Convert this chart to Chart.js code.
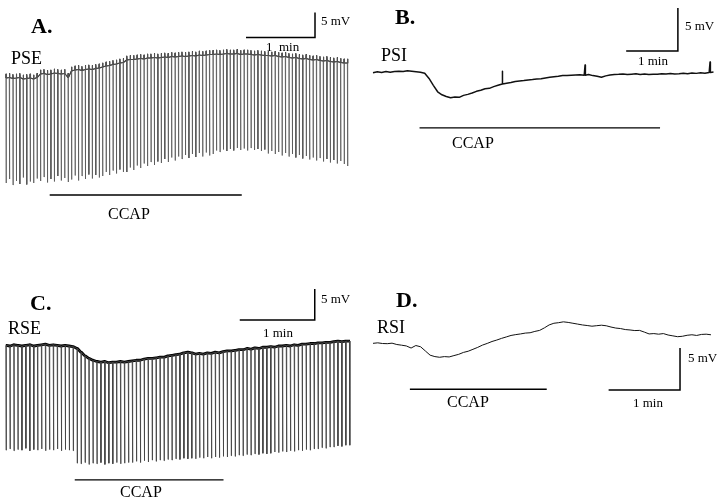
<!DOCTYPE html>
<html>
<head>
<meta charset="utf-8">
<script src="https://cdn.jsdelivr.net/npm/chart.js@4/dist/chart.umd.min.js"></script>
<style>
  html, body { margin: 0; padding: 0; background: #fff; }
  #wrap { position: relative; width: 720px; height: 502px; }
  canvas { position: absolute; }
</style>
</head>
<body>
<div id="wrap">
  <canvas id="pa" width="360" height="251" style="left:0;top:0"></canvas>
  <canvas id="pb" width="360" height="251" style="left:360px;top:0"></canvas>
  <canvas id="pc" width="360" height="251" style="left:0;top:251px"></canvas>
  <canvas id="pd" width="360" height="251" style="left:360px;top:251px"></canvas>
</div>
<script>
// ---- data (mV relative to the start of each recording, time in s) ----

// A. PSE: membrane level and spike trough for every spike, one spike every 3 s
const pseBase = [
  0, 0.1, -0.1, 0, 0.1, -0.2, -0.1, 0, -0.2, 0.1,
  0.8, 0.9, 0.7, 0.8, 1.0, 0.9, 0.8, 0.9, 0.1,
  1.4, 1.6, 1.7, 1.5, 1.7, 1.8, 1.7, 1.9, 2.0,
  2.2, 2.4, 2.5, 2.7, 2.8, 3.0, 3.1,
  3.6, 3.7, 3.7, 3.8, 3.9, 3.8, 4.0, 4.0, 4.1, 4.0,
  4.1, 4.2, 4.1, 4.3, 4.2, 4.3, 4.4, 4.3, 4.4, 4.5, 4.4, 4.6, 4.5, 4.6, 4.7,
  4.7, 4.8, 4.7, 4.8, 4.9, 4.8, 4.8, 4.9, 4.7, 4.8, 4.8, 4.7, 4.6, 4.7, 4.6, 4.5,
  4.5, 4.4, 4.5, 4.3, 4.2, 4.3, 4.1, 4.0, 4.1, 3.9,
  3.8, 3.9, 3.7, 3.6, 3.7, 3.5, 3.4, 3.5, 3.3, 3.2, 3.3, 3.1, 3.0, 3.0
];
const pseTrough = [
  -21.0, -20.2, -21.4, -20.6, -21.2, -19.9, -21.3, -20.7, -21.0, -20.1,
  -20.6, -19.8, -20.9, -20.2, -20.7, -19.6, -20.5, -20.0, -20.8,
  -20.3, -19.5, -20.5, -19.6, -20.2, -19.3, -20.1, -19.4, -19.9,
  -19.6, -18.8, -19.4, -18.5, -19.1, -18.3, -18.8,
  -18.8, -17.9, -18.4, -17.5, -18.0, -17.1, -17.6, -16.8, -17.4, -16.7,
  -17.0, -16.2, -16.8, -15.9, -16.5, -15.7, -16.2, -15.4, -16.0, -15.2, -15.8, -15.0, -15.7, -14.9, -15.5,
  -15.2, -14.5, -14.8, -14.3, -14.6, -14.2, -14.5, -14.0, -14.4, -14.1, -14.5, -14.0, -14.4, -14.2, -14.6, -14.3,
  -15.1, -14.6, -15.2, -14.8, -15.5, -15.0, -15.7, -15.2, -15.9, -15.4,
  -16.1, -15.6, -16.3, -15.9, -16.5, -16.0, -16.7, -16.2, -16.9, -16.4, -17.1, -16.6, -17.2, -17.6
];
const pseCcap = [38, 205];

// B. PSI: one sample every 5 s, plus a few small depolarising events
const psiVolt = [
  -0.08, 0.02, -0.05, 0.05, -0.02, 0.06, 0.1, 0.05, 0.14, 0.08,
  0.03, -0.02, -0.15, -0.75, -1.55, -2.3, -2.65, -2.85, -3.0, -2.92,
  -2.95, -2.72, -2.6, -2.45, -2.25, -2.12, -1.95, -1.9, -1.7, -1.55,
  -1.4, -1.3, -1.22, -1.1, -1.05, -1.0, -0.92, -0.88, -0.82, -0.78,
  -0.7, -0.62, -0.55, -0.5, -0.42, -0.4, -0.38, -0.36, -0.33, -0.38,
  -0.3, -0.42, -0.5, -0.62, -0.45, -0.35, -0.3, -0.27, -0.22, -0.3,
  -0.25, -0.2, -0.28, -0.22, -0.3, -0.25, -0.27, -0.2, -0.24, -0.18,
  -0.22, -0.2, -0.15, -0.2, -0.12, -0.16, -0.1, -0.14, -0.05, 0.0
];
const psiEventTime = [150, 246, 391];
const psiEventSize = [1.5, 1.2, 1.2];
const psiCcap = [54, 333];

// C. RSE: membrane level and spike trough, one spike every 3.16 s
const rseBase = [
  0.1, 0, 0.2, 0.1, 0, 0.1, 0.2, 0, 0.1, 0.2, 0.3, 0.1, 0.2, 0.1, 0, 0.1, 0, -0.1,
  -0.4, -1.0, -1.6, -2.0, -2.3, -2.5, -2.6, -2.5, -2.7, -2.6, -2.6, -2.5, -2.6, -2.5,
  -2.4, -2.3, -2.3, -2.1, -2.0, -2.0, -1.9, -1.8, -1.8, -1.6, -1.5, -1.4, -1.3, -1.1, -1.0, -1.1,
  -1.3, -1.2, -1.3, -1.1, -1.2, -1.0, -1.1, -0.9, -0.8, -0.8,
  -0.7, -0.6, -0.6, -0.4, -0.5, -0.3, -0.4, -0.2, -0.2,
  -0.1, -0.2, 0, 0, 0.1, 0, 0.2, 0.1, 0.3, 0.3,
  0.4, 0.4, 0.5, 0.5, 0.6, 0.6, 0.7, 0.8, 0.7, 0.8, 0.8
];
const rseTrough = [
  -16.8, -16.6, -16.9, -16.7, -16.8, -16.5, -16.9, -16.7, -16.8, -16.6, -16.9, -16.7, -16.8, -16.6, -16.9, -16.7, -16.8, -16.9,
  -18.9, -19.0, -18.8, -19.1, -18.9, -19.0, -18.8, -19.1, -18.9, -19.0, -18.8, -19.0, -18.9, -18.8,
  -18.8, -18.6, -18.8, -18.5, -18.7, -18.4, -18.6, -18.4, -18.5, -18.3, -18.4, -18.2, -18.3, -18.1, -18.2, -18.1,
  -18.2, -18.0, -18.1, -17.9, -18.1, -17.9, -18.0, -17.8, -17.9, -17.7,
  -17.8, -17.6, -17.7, -17.5, -17.6, -17.4, -17.5, -17.3, -17.4,
  -17.3, -17.1, -17.2, -17.0, -17.1, -16.9, -17.0, -16.8, -16.9, -16.7,
  -16.8, -16.6, -16.6, -16.4, -16.5, -16.3, -16.3, -16.1, -16.2, -16.0, -16.0
];
const rseCcap = [55, 174];

// D. RSI: one sample every 4 s
const rsiVolt = [
  -0.04, 0.02, -0.06, -0.08, -0.02, -0.18, -0.26, -0.35, -0.6, -0.3,
  -0.45, -0.95, -1.45, -1.62, -1.7, -1.62, -1.66, -1.5, -1.35, -1.12,
  -0.98, -0.75, -0.52, -0.25, -0.05, 0.18, 0.35, 0.55, 0.72, 0.9,
  1.0, 1.08, 1.18, 1.22, 1.38, 1.5, 1.8, 2.15, 2.35, 2.42,
  2.52, 2.45, 2.35, 2.25, 2.15, 2.08, 2.0, 2.06, 2.12, 2.05,
  1.9, 1.78, 1.72, 1.6, 1.55, 1.48, 1.5, 1.3, 1.08, 1.12,
  1.05, 1.12, 0.95, 0.85, 0.75, 0.8, 0.92, 0.98, 0.9, 1.02,
  1.05, 0.98
];
const rsiCcap = [31, 146];

// ---- helpers ----
const W = 360, H = 251;
const SERIF = '"Liberation Serif", "Times New Roman", serif';

function spikeTrace(base, trough, period, over, withTrough) {
  const pts = [];
  base.forEach((b, i) => {
    const t = i * period;
    pts.push({ x: t - 0.15, y: b });
    if (over) pts.push({ x: t, y: b + over });
    if (withTrough) pts.push({ x: t + 0.12, y: trough[i] });
    pts.push({ x: t + 0.3, y: b });
  });
  return pts;
}

function sampled(volt, step, evTime, evSize) {
  const pts = volt.map((v, i) => ({ x: i * step, y: v }));
  (evTime || []).forEach((t, k) => {
    const v = volt[Math.round(t / step)];
    pts.push({ x: t, y: v + evSize[k] }, { x: t + 0.4, y: v });
  });
  return pts.sort((a, b) => a.x - b.x);
}

function line(data, color, width) {
  return {
    data, borderColor: color, borderWidth: width, pointRadius: 0, fill: false, tension: 0,
    borderJoinStyle: 'round', borderCapStyle: 'butt'
  };
}

function scaleBar(t0, v0) {
  return Object.assign(
    line([{ x: t0, y: v0 }, { x: t0 + 60, y: v0 }, { x: t0 + 60, y: v0 + 5 }], '#000', 1.5),
    { borderJoinStyle: 'miter' }
  );
}

function ccapBar(range, level) {
  return line([{ x: range[0], y: level }, { x: range[1], y: level }], '#000', 1.4);
}

const textPlugin = labels => ({
  id: 'panelText',
  afterDraw(chart) {
    const ctx = chart.ctx;
    ctx.save();
    ctx.fillStyle = '#000';
    ctx.textBaseline = 'alphabetic';
    labels.forEach(l => {
      ctx.font = l.f;
      ctx.fillText(l.s, l.x, l.y);
    });
    ctx.restore();
  }
});

function panel(id, cfg, datasets) {
  new Chart(document.getElementById(id), {
    type: 'line',
    data: { datasets },
    options: {
      responsive: false,
      animation: false,
      events: [],
      layout: { padding: 0 },
      scales: {
        x: { type: 'linear', display: false, min: -cfg.ox / cfg.pxs, max: (W - cfg.ox) / cfg.pxs },
        y: { display: false, min: -(H - cfg.oy) / cfg.pxv, max: cfg.oy / cfg.pxv }
      },
      plugins: { legend: { display: false }, tooltip: { enabled: false } }
    },
    plugins: [textPlugin(cfg.labels)]
  });
}

const big = 'bold 22px ' + SERIF, name = '18px ' + SERIF, small = '13px ' + SERIF, mid = '16px ' + SERIF;

panel('pa', {
  ox: 6, oy: 78, pxs: 1.15, pxv: 5,
  labels: [
    { s: 'A.', x: 31, y: 33, f: big }, { s: 'PSE', x: 11, y: 64, f: name },
    { s: '5 mV', x: 321, y: 25, f: small }, { s: '1  min', x: 266, y: 51, f: small },
    { s: 'CCAP', x: 108, y: 219, f: mid }
  ]
}, [
  line(spikeTrace(pseBase, pseTrough, 3.0, 0.8, true), '#555', 0.8),
  line(spikeTrace(pseBase, pseTrough, 3.0, 0.8, false), '#111', 1.1),
  scaleBar(208.7, 8.1),
  ccapBar(pseCcap, -23.4)
]);

panel('pb', {
  ox: 13, oy: 72, pxs: 0.862, pxv: 8.6,
  labels: [
    { s: 'B.', x: 35, y: 24, f: big }, { s: 'PSI', x: 21, y: 61, f: name },
    { s: '5 mV', x: 325, y: 30, f: small }, { s: '1 min', x: 278, y: 65, f: small },
    { s: 'CCAP', x: 92, y: 148, f: mid }
  ]
}, [
  line(sampled(psiVolt, 5, psiEventTime, psiEventSize), '#111', 1.5),
  scaleBar(293.7, 2.44),
  ccapBar(psiCcap, -6.5)
]);

panel('pc', {
  ox: 6, oy: 95, pxs: 1.25, pxv: 6.2,
  labels: [
    { s: 'C.', x: 30, y: 59, f: big }, { s: 'RSE', x: 8, y: 83, f: name },
    { s: '5 mV', x: 321, y: 52, f: small }, { s: '1 min', x: 263, y: 86, f: small },
    { s: 'CCAP', x: 120, y: 246, f: mid }
  ]
}, [
  line(spikeTrace(rseBase, rseTrough, 3.16, 0, true), '#444', 0.9),
  line(spikeTrace(rseBase, rseTrough, 3.16, 0, false), '#000', 2.8),
  scaleBar(187, 4.2),
  ccapBar(rseCcap, -21.6)
]);

panel('pd', {
  ox: 13, oy: 92, pxs: 1.19, pxv: 8.4,
  labels: [
    { s: 'D.', x: 36, y: 56, f: big }, { s: 'RSI', x: 17, y: 82, f: name },
    { s: '5 mV', x: 328, y: 111, f: small }, { s: '1 min', x: 273, y: 156, f: small },
    { s: 'CCAP', x: 87, y: 156, f: mid }
  ]
}, [
  line(sampled(rsiVolt, 4), '#111', 1),
  scaleBar(198, -5.6),
  ccapBar(rsiCcap, -5.5)
]);
</script>
</body>
</html>
